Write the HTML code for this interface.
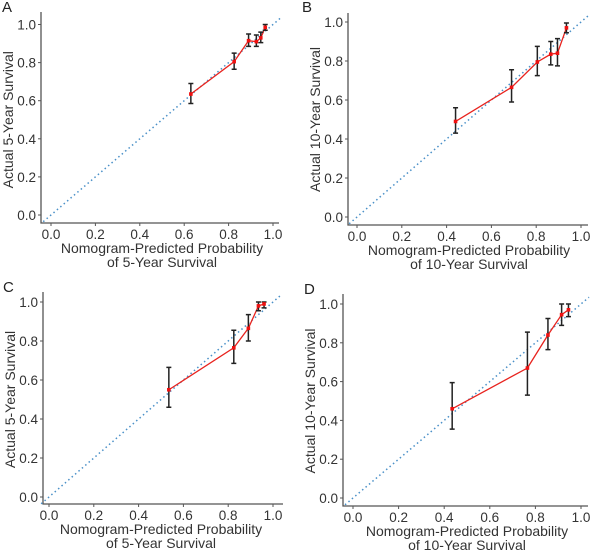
<!DOCTYPE html>
<html><head><meta charset="utf-8"><style>
html,body{margin:0;padding:0;background:#fff;}
svg{display:block;font-family:"Liberation Sans",Arial,sans-serif;}
</style></head><body>
<svg id="c" width="600" height="550" viewBox="0 0 600 550"></svg>
<script>
// Panel data: predicted, observed, lower CI, upper CI
const predA=[0.63,0.825,0.89,0.925,0.945,0.965];
const obsA=[0.635,0.805,0.915,0.91,0.93,0.985];
const loA=[0.585,0.765,0.885,0.885,0.905,0.97];
const hiA=[0.69,0.85,0.95,0.945,0.96,1.0];
const predB=[0.44,0.69,0.805,0.865,0.895,0.935];
const obsB=[0.49,0.665,0.795,0.835,0.84,0.97];
const loB=[0.43,0.59,0.725,0.78,0.775,0.945];
const hiB=[0.56,0.755,0.875,0.9,0.915,0.995];
const predC=[0.535,0.825,0.89,0.935,0.96];
const obsC=[0.55,0.765,0.865,0.98,0.99];
const loC=[0.46,0.685,0.80,0.955,0.97];
const hiC=[0.665,0.855,0.935,1.0,1.0];
const predD=[0.435,0.765,0.855,0.915,0.945];
const obsD=[0.46,0.67,0.84,0.945,0.97];
const loD=[0.355,0.53,0.765,0.89,0.935];
const hiD=[0.595,0.855,0.925,1.0,1.0];
const ticks=[0,0.2,0.4,0.6,0.8,1.0];
const tickLabels=["0.0","0.2","0.4","0.6","0.8","1.0"];

const panels=[
 {id:"a",letter:"A",yr:"5",px:[predA,obsA,loA,hiA],x0:51,x1:273,y0:215,y1:24.5,ax:41,ay:223,right:279,top:12,lx:2,ly:12},
 {id:"b",letter:"B",yr:"10",px:[predB,obsB,loB,hiB],x0:357,x1:581,y0:217,y1:22,ax:348,ay:225,right:588,top:13,lx:302,ly:12},
 {id:"c",letter:"C",yr:"5",px:[predC,obsC,loC,hiC],x0:49,x1:273,y0:497,y1:302,ax:43,ay:504,right:283,top:292,lx:3,ly:292},
 {id:"d",letter:"D",yr:"10",px:[predD,obsD,loD,hiD],x0:353,x1:581,y0:498,y1:304,ax:343,ay:506,right:588,top:294,lx:304,ly:294}
];
const NS="http://www.w3.org/2000/svg";
const svg=document.getElementById('c');
function mk(tag,attrs,parent){const e=document.createElementNS(NS,tag);for(const k in attrs)e.setAttribute(k,attrs[k]);(parent||svg).appendChild(e);return e;}
panels.forEach(p=>{
 const g=mk('g',{});
 
 
 const X=v=>p.x0+(p.x1-p.x0)*v, Y=v=>p.y0+(p.y1-p.y0)*v;
 const t=mk('text',{x:p.lx,y:p.ly,'font-size':15,fill:'#222'},g);t.textContent=p.letter;
 
 
 const ax=mk('path',{d:`M${p.ax},${p.top}V${p.ay}H${p.right}`,stroke:'#555',fill:'none','stroke-width':1.3},g);
 
 
 ticks.forEach((v,i)=>{
  mk('line',{x1:p.ax-3,x2:p.ax,y1:Y(v),y2:Y(v),stroke:'#555'},g);
  const yl=mk('text',{x:p.ax-5,y:Y(v)+5,'font-size':13.5,'text-anchor':'end',fill:'#333'},g);yl.textContent=tickLabels[i];
  
  
  mk('line',{x1:X(v),x2:X(v),y1:p.ay,y2:p.ay+3,stroke:'#555'},g);
  const xl=mk('text',{x:X(v),y:p.ay+16,'font-size':13.5,'text-anchor':'middle',fill:'#333'},g);xl.textContent=tickLabels[i];
  
  
 });
 const cx=(p.x0+p.x1)/2;
 const t1=mk('text',{x:cx,y:p.ay+30,'font-size':14,'text-anchor':'middle',fill:'#333'},g);t1.textContent='Nomogram-Predicted Probability';
 
 
 const t2=mk('text',{x:cx,y:p.ay+44,'font-size':14,'text-anchor':'middle',fill:'#333'},g);t2.textContent='of '+p.yr+'-Year Survival';
 
 
 const cy=(p.y0+p.y1)/2;
 const yt=mk('text',{x:p.ax-28,y:cy,'font-size':14,'text-anchor':'middle',fill:'#333',transform:`rotate(-90 ${p.ax-28} ${cy})`},g);yt.textContent='Actual '+p.yr+'-Year Survival';
 
 
 const dg=mk('line',{x1:X(-0.035),y1:Y(-0.035),x2:X(1.035),y2:Y(1.035),stroke:'#4a90c8','stroke-width':1.5,'stroke-dasharray':'1.5 3'},g);
 
 
 const [pr,ob,lo,hi]=p.px;
 const pl=mk('polyline',{points:pr.map((v,i)=>X(v)+','+Y(ob[i])).join(' '),stroke:'#e8231e',fill:'none','stroke-width':1.3},g);
 
 
 pr.forEach((v,i)=>{
  const x=X(v);
  const eb=mk('path',{d:`M${x},${Y(lo[i])}V${Y(hi[i])}M${x-2.5},${Y(lo[i])}H${x+2.5}M${x-2.5},${Y(hi[i])}H${x+2.5}`,stroke:'#222','stroke-width':1.5,fill:'none'},g);
  
  
  const pt=mk('rect',{x:x-1.8,y:Y(ob[i])-1.8,width:3.6,height:3.6,fill:'#f01010'},g);
  
  
 });
});
</script>
</body></html>
